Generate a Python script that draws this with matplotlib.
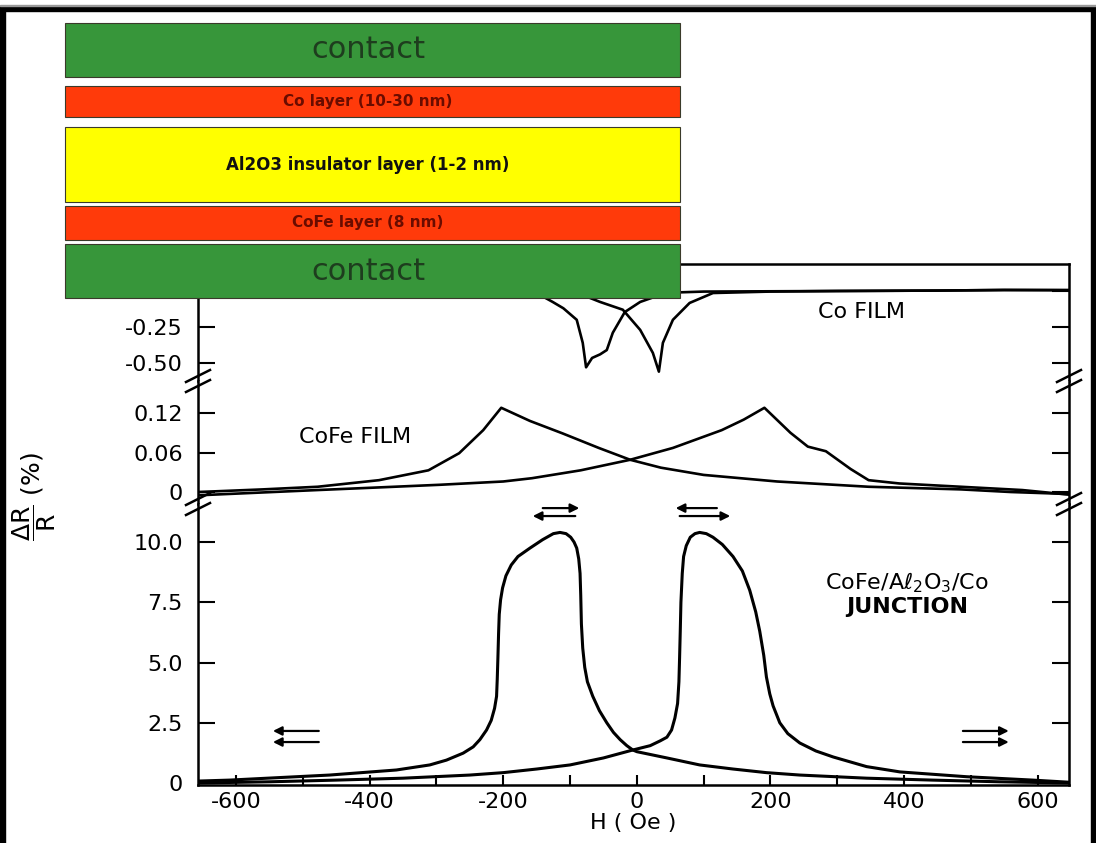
import matplotlib
matplotlib.use('Agg')
import matplotlib.pyplot as plt
from matplotlib.patches import Rectangle
from matplotlib.lines import Line2D

W, H = 1096, 843

# ---- data ----
# Co film (top panel), Delta R/R in %
co_h1 = [-657, -300, -170, -140, -126, -110, -90, -81, -76, -67, -55, -45, -36, -18, 5, 30, 60, 100, 300, 450, 550, 647]
co_r1 = [0.0, 0.0, -0.01, -0.04, -0.076, -0.12, -0.2, -0.36, -0.53, -0.465, -0.44, -0.41, -0.29, -0.146, -0.076, -0.035, -0.01, -0.004, 0.0, 0.003, 0.007, 0.006]
co_h2 = [-657, -120, -80, -55, -21, 5, 24, 33, 39, 54, 79, 114, 200, 300, 450, 550, 647]
co_r2 = [0.0, 0.0, -0.03, -0.076, -0.13, -0.27, -0.43, -0.56, -0.36, -0.2, -0.083, -0.014, -0.004, 0.0, 0.003, 0.007, 0.006]

# CoFe film (middle panel)
cofe_h1 = [-657, -560, -478, -386, -312, -266, -230, -203, -160, -111, -57, -10, 36, 100, 210, 347, 485, 560, 647]
cofe_r1 = [0.0, 0.004, 0.008, 0.018, 0.033, 0.059, 0.094, 0.128, 0.108, 0.089, 0.067, 0.049, 0.037, 0.026, 0.016, 0.008, 0.004, 0.0, -0.003]
cofe_h2 = [-657, -478, -386, -295, -200, -157, -84, -10, 54, 127, 160, 191, 230, 256, 283, 320, 347, 393, 485, 577, 647]
cofe_r2 = [-0.005, 0.003, 0.007, 0.011, 0.016, 0.021, 0.033, 0.049, 0.067, 0.094, 0.11, 0.128, 0.09, 0.069, 0.062, 0.035, 0.018, 0.013, 0.008, 0.003, -0.004]

# CoFe/Al2O3/Co junction (bottom panel)
jn_h1 = [648, 543, 443, 344, 244, 194, 144, 94, 45, 0, -6, -15, -25, -35, -45, -56, -66, -74, -78, -81, -83, -84,
         -85, -87, -90, -94, -99, -106, -115, -125, -141, -160, -178, -188, -196, -201, -204, -206, -207, -208,
         -209, -210, -213, -218, -225, -235, -245, -260, -285, -310, -360, -460, -610, -657]
jn_r1 = [0.0, 0.05, 0.12, 0.2, 0.33, 0.43, 0.58, 0.75, 1.04, 1.3, 1.37, 1.55, 1.8, 2.1, 2.5, 3.0, 3.6, 4.2, 4.8, 5.6, 6.6, 7.8,
         8.7, 9.3, 9.75, 10.0, 10.2, 10.35, 10.4, 10.35, 10.1, 9.75, 9.4, 9.05, 8.6, 8.1, 7.6, 7.0, 6.2, 5.2,
         4.3, 3.6, 3.1, 2.6, 2.2, 1.8, 1.5, 1.24, 0.95, 0.75, 0.54, 0.33, 0.12, 0.08]
jn_h2 = [-657, -550, -450, -350, -250, -200, -150, -100, -50, -6, 20, 35, 45, 52, 57, 61, 63, 64, 65, 66, 68, 70,
         74, 80, 87, 94, 104, 114, 128, 144, 158, 169, 178, 184, 190, 194, 199, 204, 214, 226, 244, 268, 294,
         344, 394, 494, 593, 648]
jn_r2 = [0.0, 0.05, 0.12, 0.2, 0.33, 0.43, 0.58, 0.75, 1.04, 1.37, 1.55, 1.75, 1.9, 2.2, 2.7, 3.3, 4.2, 5.2, 6.3, 7.5, 8.7, 9.4,
         9.85, 10.2, 10.35, 10.4, 10.35, 10.2, 9.9, 9.4, 8.8, 8.0, 7.1, 6.3, 5.3, 4.4, 3.7, 3.2, 2.5, 2.05, 1.66, 1.33, 1.08,
         0.68, 0.46, 0.26, 0.12, 0.03]

x_ticks = [-600, -400, -200, 0, 200, 400, 600]
top_ticks, top_labels = [-0.5, -0.25, 0], ['-0.50', '-0.25', '']
mid_ticks, mid_labels = [0, 0.06, 0.12], ['0', '0.06', '0.12']
bot_ticks, bot_labels = [0, 2.5, 5, 7.5, 10], ['0', '2.5', '5.0', '7.5', '10.0']

layers = ['contact', 'Co layer (10-30 nm)', 'Al2O3 insulator layer (1-2 nm)', 'CoFe layer (8 nm)', 'contact']


def fx(x):
    return x / W


def fy(y):
    return 1 - y / H


fig = plt.figure(figsize=(W / 100, H / 100), dpi=100)
fig.patch.set_facecolor('white')

left, right = 198, 1069
ax_top = fig.add_axes([fx(left), fy(381), (right - left) / W, (381 - 264) / H])
ax_mid = fig.add_axes([fx(left), fy(504), (right - left) / W, (504 - 381) / H])
ax_bot = fig.add_axes([fx(left), fy(785), (right - left) / W, (785 - 504) / H])

lw = 1.9
ax_top.plot(co_h1, co_r1, color='black', lw=lw)
ax_top.plot(co_h2, co_r2, color='black', lw=lw)
ax_mid.plot(cofe_h1, cofe_r1, color='black', lw=lw)
ax_mid.plot(cofe_h2, cofe_r2, color='black', lw=lw)
ax_bot.plot(jn_h1, jn_r1, color='black', lw=2.2)
ax_bot.plot(jn_h2, jn_r2, color='black', lw=2.2)

ax_top.set_ylim(-0.625, 0.1875)
ax_mid.set_ylim(-0.0182, 0.1687)
ax_bot.set_ylim(-0.083, 11.58)

for ax in (ax_top, ax_mid, ax_bot):
    ax.set_xlim(-657, 647)
    for s in ax.spines.values():
        s.set_linewidth(1.8)
    ax.tick_params(axis='y', direction='in', length=12, width=1.5, left=True, right=True,
                   labelsize=16, pad=11)

ax_top.spines['bottom'].set_visible(False)
ax_mid.spines['top'].set_visible(False)
ax_mid.spines['bottom'].set_visible(False)
ax_bot.spines['top'].set_visible(False)
ax_top.tick_params(axis='x', bottom=False, labelbottom=False)
ax_mid.tick_params(axis='x', bottom=False, labelbottom=False)

ax_top.set_yticks(top_ticks)
ax_top.set_yticklabels(top_labels)
ax_mid.set_yticks(mid_ticks)
ax_mid.set_yticklabels(mid_labels)
ax_bot.set_yticks(bot_ticks)
ax_bot.set_yticklabels(bot_labels)

ax_bot.set_xticks(x_ticks)
ax_bot.set_xticklabels([str(v) for v in x_ticks])
ax_bot.set_xticks([-500, -300, -100, 100, 300, 500], minor=True)
ax_bot.tick_params(axis='x', which='both', direction='in', length=7, width=1.5, labelsize=16, pad=5)
ax_bot.set_xlabel('H ( Oe )', fontsize=16, labelpad=1)

# panel labels
ax_top.text(337, -0.146, 'Co FILM', fontsize=16, ha='center', va='center')
ax_mid.text(-422, 0.0836, 'CoFe FILM', fontsize=16, ha='center', va='center')
ax_bot.text(405, 8.3, 'CoFe/A\u2113$_2$O$_3$/Co', fontsize=16, ha='center', va='center')
ax_bot.text(405, 7.3, 'JUNCTION', fontsize=16, ha='center', va='center', fontweight='bold')

# magnetisation arrows
arr = dict(arrowstyle='-|>', color='black', lw=1.6, mutation_scale=13)
for (h0, h1, r) in [(-145, -82, 11.41), (-88, -160, 11.08), (124, 54, 11.41), (60, 144, 11.08),
                    (-472, -549, 2.16), (-472, -549, 1.70), (484, 561, 2.16), (484, 561, 1.70)]:
    ax_bot.annotate('', xy=(h1, r), xytext=(h0, r), arrowprops=arr)

# y label
fig.text(fx(34), fy(497), r'$\mathrm{\dfrac{\Delta R}{R}}$ (%)', rotation=90, ha='center', va='center',
         fontsize=18)

# axis break marks
for yb in (381, 504):
    for xb in (left, right):
        for off in (-5, 5):
            fig.add_artist(Line2D([fx(xb - 12), fx(xb + 12)], [fy(yb + off + 6), fy(yb + off - 6)],
                                  color='black', lw=1.8, zorder=4))

# layer stack diagram
green, red, yellow = '#37963a', '#ff3a0a', '#ffff00'
boxes = [(23, 77, green), (86, 117, red), (127, 202, yellow), (206, 240, red), (244, 298, green)]
styles = [dict(fontsize=22, color='#1e3d1e'),
          dict(fontsize=11, color='#6a0c00', fontweight='bold'),
          dict(fontsize=12, color='#111111', fontweight='bold'),
          dict(fontsize=11, color='#6a0c00', fontweight='bold'),
          dict(fontsize=22, color='#1e3d1e')]
for (y0, y1, c), name, st in zip(boxes, layers, styles):
    fig.add_artist(Rectangle((fx(65), fy(y1)), (680 - 65) / W, (y1 - y0) / H, facecolor=c,
                             edgecolor='#3a3a2a', lw=0.8, zorder=10))
    fig.text(fx(368), fy((y0 + y1) / 2), name, ha='center', va='center', zorder=11, **st)

# outer black frame
fig.add_artist(Rectangle((0, fy(843)), fx(5), fy(6) - fy(843), color='black', zorder=20))
fig.add_artist(Rectangle((0, fy(11)), 1, fy(6) - fy(11), color='black', zorder=20))
fig.add_artist(Rectangle((fx(1091), fy(843)), fx(5), fy(6) - fy(843), color='black', zorder=20))
fig.add_artist(Rectangle((0, fy(5.5)), 1, fy(4.5) - fy(5.5), color='#999999', zorder=20))

fig.savefig('out.png', dpi=100)
